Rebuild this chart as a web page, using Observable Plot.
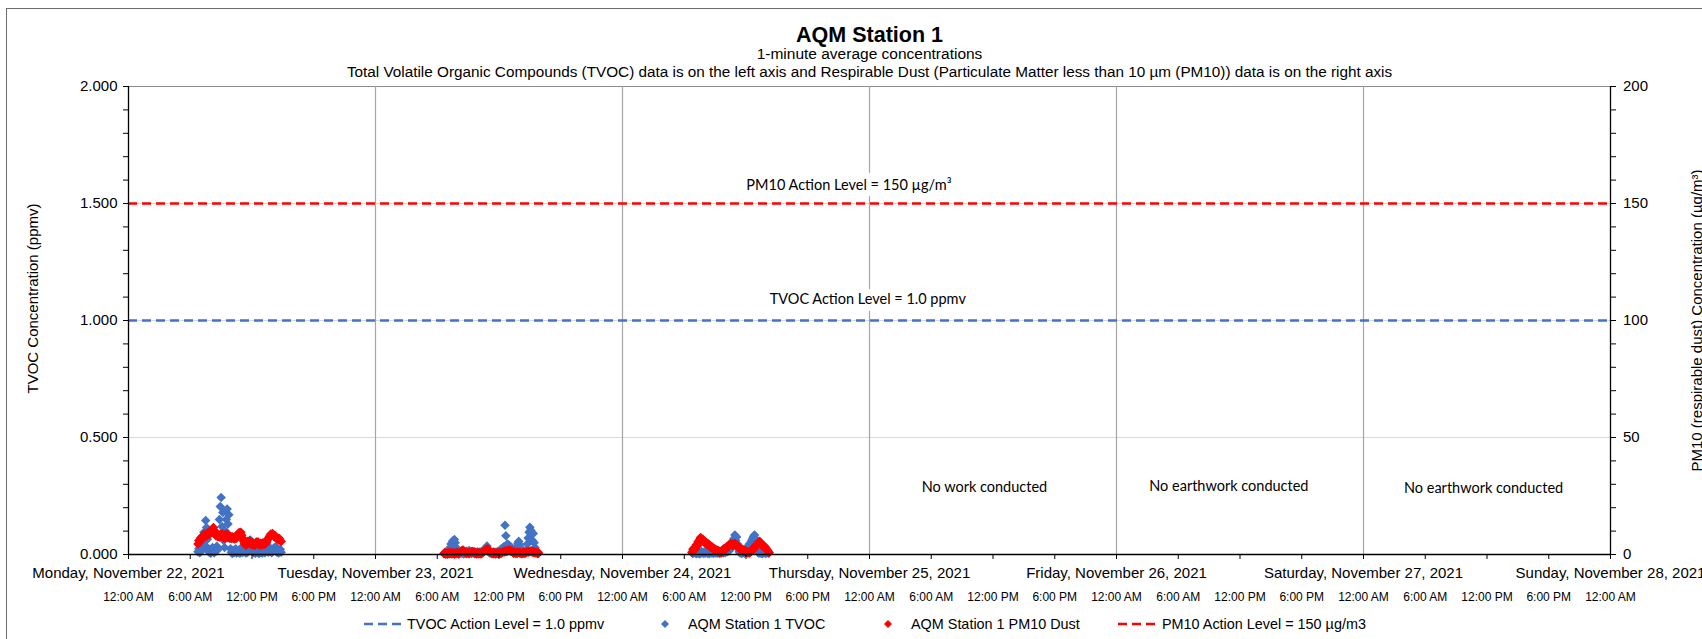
<!DOCTYPE html>
<html>
<head>
<meta charset="utf-8">
<script src="https://cdn.jsdelivr.net/npm/d3@7"></script>
<script src="https://cdn.jsdelivr.net/npm/@observablehq/plot@0.6"></script>
<style>
html,body{margin:0;padding:0;background:#fff;width:1702px;height:639px;overflow:hidden;}
#wrap{position:relative;width:1702px;height:639px;overflow:hidden;}
#frame{position:absolute;left:6px;top:8px;width:1760px;height:720px;border:1px solid #6e6e6e;box-sizing:border-box;pointer-events:none;}
#chart{position:absolute;left:0;top:0;}
.lg{position:absolute;top:615px;height:18px;line-height:18px;font-family:'Liberation Sans',Arial,sans-serif;font-size:14.4px;color:#000;white-space:nowrap;}
.lg svg{display:block;}
</style>
</head>
<body>
<div id="wrap">
  <div id="chart"></div>
  <div id="frame"></div>
</div>
<script>
// ---------------- DATA ----------------
const chartTitle = "AQM Station 1";
const subtitle1 = "1-minute average concentrations";
const subtitle2 = "Total Volatile Organic Compounds (TVOC) data is on the left axis and Respirable Dust (Particulate Matter less than 10 µm (PM10)) data is on the right axis";
const leftAxisTitle = "TVOC Concentration (ppmv)";
const rightAxisTitle = "PM10 (respirable dust) Concentration (µg/m³)";

const xStartISO = "2021-11-22T00:00:00Z";
const xEndISO = "2021-11-28T00:00:00Z";
const dayLabels = ["Monday, November 22, 2021","Tuesday, November 23, 2021","Wednesday, November 24, 2021","Thursday, November 25, 2021","Friday, November 26, 2021","Saturday, November 27, 2021","Sunday, November 28, 2021"];
const hourLabels = ["12:00 AM","6:00 AM","12:00 PM","6:00 PM"];
const leftTickValues = [0, 0.5, 1.0, 1.5, 2.0];
const leftTickLabels = ["0.000","0.500","1.000","1.500","2.000"];
const rightTickLabels = ["0","50","100","150","200"];
const minorTickValues = [0,0.1,0.2,0.3,0.4,0.5,0.6,0.7,0.8,0.9,1.0,1.1,1.2,1.3,1.4,1.5,1.6,1.7,1.8,1.9,2.0];

const tvocActionLevel = [1.0];      // ppmv (left axis)
const pm10ActionLevel = [150];      // µg/m³ (right axis)
const pm10PerTvocUnit = 100;        // right axis 0-200 vs left axis 0-2

// 5-minute samples of the 1-minute records, one array per working day
const sampleStepMinutes = 5;
const mondayStart = "2021-11-22T06:45:00Z";
const tuesdayStart = "2021-11-23T06:40:00Z";
const wednesdayStart = "2021-11-24T06:45:00Z";

const tvocMonday = [0.012,0.025,0.008,
 0.030,0.015,0.040,0.060,0.095,0.040,0.145,0.115,0.065,0.020,0.010,0.022,
 0.005,0.018,0.030,0.012,0.008,0.025,0.015,0.035,0.020,0.080,0.150,0.205,
 0.244,0.120,0.180,0.060,0.030,0.100,0.150,0.194,0.130,0.170,0.070,0.025,
 0.010,0.004,0.018,0.008,0.012,0.025,0.006,0.015,0.010,0.020,0.005,0.014,
 0.030,0.009,0.018,0.012,0.022,0.006,0.016,0.010,0.028,0.040,0.062,0.050,
 0.030,0.015,0.008,0.016,0.005,0.012,0.020,0.010,0.004,0.015,0.009,0.018,
 0.006,0.013,0.022,0.008,0.012,0.055,0.040,0.010,0.025,0.014,0.020,0.008,
 0.015,0.024,0.030,0.018,0.032,0.010,0.020,0.006,0.015,0.022,0.010];
const pm10Monday = [4.5,6.0,5.2,
 7.0,6.5,7.8,7.2,8.5,7.6,8.8,7.9,9.2,8.4,9.6,8.8,
 10.2,9.4,11.0,11.5,10.4,9.2,8.0,8.8,7.6,8.4,7.5,8.6,
 7.8,8.9,7.4,8.2,7.0,8.5,7.6,8.8,7.2,8.0,7.0,7.8,
 6.8,7.6,6.9,7.4,6.6,7.8,7.0,8.2,8.8,9.4,9.0,9.5,
 8.2,7.0,5.8,4.6,5.2,4.0,4.8,5.6,4.9,5.9,5.0,4.3,
 5.1,4.2,4.8,3.9,4.6,5.3,4.5,5.4,4.7,4.0,4.8,4.1,
 4.9,4.3,5.0,4.4,5.6,5.0,6.2,6.8,7.5,8.2,8.8,8.4,
 9.0,8.3,7.6,8.0,7.2,6.5,7.0,6.2,6.8,6.0,5.6];

const tvocTuesday = [0.004,0.010,0.002,0.008,
 0.012,0.005,0.018,0.030,0.045,0.022,0.058,0.040,0.064,0.050,0.030,0.015,
 0.008,0.003,0.010,0.006,0.012,0.004,0.009,0.002,0.011,0.006,0.014,0.005,
 0.010,0.017,0.008,0.012,0.004,0.010,0.006,0.013,0.003,0.009,0.005,0.012,
 0.007,0.004,0.010,0.006,0.014,0.008,0.012,0.018,0.025,0.030,0.036,0.022,
 0.015,0.006,0.010,0.004,0.008,0.003,0.011,0.006,0.009,0.004,0.012,0.007,
 0.010,0.016,0.022,0.014,0.028,0.020,0.034,0.125,0.080,0.040,0.045,0.030,
 0.038,0.024,0.032,0.018,0.012,0.006,0.010,0.004,0.020,0.035,0.048,0.056,
 0.042,0.030,0.018,0.008,0.012,0.005,0.010,0.006,0.020,0.045,0.070,0.095,
 0.116,0.104,0.085,0.060,0.090,0.050,0.030,0.015,0.008,0.012,0.004];
const pm10Tuesday = [0.3,0.8,0.2,0.6,
 0.1,0.7,0.3,0.9,0.4,0.2,0.8,0.5,0.1,0.6,0.3,0.9,
 0.5,0.2,0.8,1.0,1.4,1.7,1.9,1.5,1.2,0.8,0.4,0.9,
 0.6,0.3,0.8,1.0,1.2,1.3,1.1,0.7,0.4,0.8,0.2,0.6,
 0.3,0.9,0.5,0.2,0.7,1.0,1.3,1.6,1.9,2.1,2.3,2.4,
 2.0,1.6,1.1,0.7,0.4,0.9,0.3,0.7,0.2,0.5,0.8,0.3,
 0.6,0.9,0.4,0.7,1.0,1.3,1.1,1.5,1.2,1.6,1.4,1.8,
 1.9,1.7,1.3,1.6,1.0,0.7,1.1,0.5,0.8,0.4,0.9,1.0,
 0.6,0.8,0.3,0.7,0.4,0.9,0.5,0.8,1.1,1.3,1.0,1.4,
 1.2,1.5,1.3,1.0,1.2,0.8,1.1,0.6,0.9,0.4,0.7];

const tvocWednesday = [0.010,0.004,0.015,
 0.008,0.012,0.003,0.009,0.005,0.011,0.002,0.008,0.013,0.006,0.010,0.004,
 0.012,0.007,0.015,0.005,0.010,0.003,0.008,0.014,0.006,0.011,0.004,0.009,
 0.013,0.005,0.010,0.007,0.016,0.004,0.012,0.008,0.018,0.010,0.006,0.014,
 0.009,0.020,0.012,0.025,0.015,0.030,0.022,0.040,0.055,0.035,0.068,0.083,
 0.060,0.075,0.045,0.025,0.012,0.006,0.010,0.004,0.008,0.012,0.005,0.010,
 0.015,0.022,0.035,0.028,0.045,0.040,0.055,0.062,0.070,0.078,0.083,0.066,
 0.040,0.020,0.010,0.005,0.012,0.006,0.009,0.003,0.010,0.006,0.012,0.004,
 0.008,0.011,0.005,0.009];
const pm10Wednesday = [1.0,2.2,1.5,
 3.0,2.4,4.2,3.5,5.4,4.6,6.5,7.3,6.8,5.8,6.4,5.2,
 5.7,4.6,5.0,4.2,4.6,3.6,3.9,3.0,3.4,2.5,2.8,2.0,
 2.3,1.5,1.9,1.2,1.6,0.9,1.1,0.6,1.3,1.8,2.4,2.0,
 2.9,2.5,3.4,3.0,3.9,4.4,4.7,4.2,4.6,3.9,4.5,4.7,
 4.3,3.6,3.9,3.0,2.6,2.9,2.1,2.4,1.6,1.9,1.2,1.7,
 0.9,1.3,0.7,1.1,0.6,1.0,1.5,1.9,2.6,2.2,3.1,3.6,
 4.3,3.9,4.8,5.3,5.6,5.0,4.6,4.0,3.4,3.7,2.8,3.0,
 2.2,1.8,1.2,0.8];

// annotations (x in time, y in left-axis units)
const noteLabels = ["No work conducted","No earthwork conducted","No earthwork conducted"];
const noteTimes = ["2021-11-25T11:10:00Z","2021-11-26T10:55:00Z","2021-11-27T11:40:00Z"];
const noteValues = [0.288, 0.291, 0.283];
const actionLabelTexts = ["PM10 Action Level = 150 µg/m³","TVOC Action Level = 1.0 ppmv"];
const actionLabelTimes = ["2021-11-24T22:00:00Z","2021-11-24T23:50:00Z"];
const actionLabelValues = [1.579, 1.092];

const legendLabels = ["TVOC Action Level = 1.0 ppmv","AQM Station 1 TVOC","AQM Station 1 PM10 Dust","PM10 Action Level = 150 µg/m3"];

// ---------------- BUILD ----------------
const blue = "#4472C4", red = "#FF0000";
const xStart = new Date(xStartISO), xEnd = new Date(xEndISO);
function toSeries(startISO, values, divisor) {
  const t0 = new Date(startISO).getTime();
  return values.map((v, i) => ({t: new Date(t0 + i * sampleStepMinutes * 60000), v: v / divisor}));
}
const tvocData = [
  ...toSeries(mondayStart, tvocMonday, 1),
  ...toSeries(tuesdayStart, tvocTuesday, 1),
  ...toSeries(wednesdayStart, tvocWednesday, 1)
];
const pm10Data = [
  ...toSeries(mondayStart, pm10Monday, pm10PerTvocUnit),
  ...toSeries(tuesdayStart, pm10Tuesday, pm10PerTvocUnit),
  ...toSeries(wednesdayStart, pm10Wednesday, pm10PerTvocUnit)
];
const dayTicks = d3.utcDay.range(xStart, new Date(+xEnd + 1));
const sixHourTicks = d3.utcHour.every(6).range(xStart, new Date(+xEnd + 1));
const notes = noteLabels.map((s, i) => ({label: s, t: new Date(noteTimes[i]), v: noteValues[i]}));
const actionNotes = actionLabelTexts.map((s, i) => ({label: s, t: new Date(actionLabelTimes[i]), v: actionLabelValues[i]}));
const calibriLike = "Lato, 'Open Sans', sans-serif";
const arial = "'Liberation Sans', Arial, sans-serif";

const plot = Plot.plot({
  width: 1702,
  height: 639,
  marginTop: 86,
  marginBottom: 85,
  marginLeft: 128,
  marginRight: 92,
  x: {type: "utc", domain: [xStart, xEnd]},
  y: {domain: [0, 2]},
  style: {fontFamily: arial, fontSize: "15px", color: "#000", background: "transparent", overflow: "visible"},
  marks: [
    // gridlines
    Plot.ruleY([0.5, 1.0, 1.5], {stroke: "#d9d9d9", strokeWidth: 1}),
    Plot.ruleY([2.0], {stroke: "#8c8c8c", strokeWidth: 1.2}),
    Plot.ruleX(dayTicks.slice(1, -1), {stroke: "#a6a6a6", strokeWidth: 1.2}),
    // TVOC action level
    Plot.ruleY(tvocActionLevel, {y: d => d, stroke: blue, strokeWidth: 2.5, strokeDasharray: "9,5"}),
    // data
    Plot.dot(tvocData, {x: "t", y: "v", symbol: "diamond2", r: 4.3, fill: blue}),
    Plot.dot(pm10Data, {x: "t", y: "v", symbol: "diamond2", r: 4.3, fill: red}),
    // PM10 action level
    Plot.ruleY(pm10ActionLevel, {y: d => d / pm10PerTvocUnit, stroke: red, strokeWidth: 2.5, strokeDasharray: "9,5"}),
    // labels
    Plot.text(actionNotes, {x: "t", y: "v", text: "label", fontFamily: calibriLike, fontSize: 14.5, fill: "#000", stroke: "white", strokeWidth: 14, paintOrder: "stroke"}),
    Plot.text(notes, {x: "t", y: "v", text: "label", fontFamily: calibriLike, fontSize: 14.5, fill: "#000"}),
    // axis lines
    Plot.ruleX([xStart], {stroke: "#000", strokeWidth: 1.3}),
    Plot.ruleX([xEnd], {stroke: "#000", strokeWidth: 1.3}),
    Plot.ruleY([0], {stroke: "#000", strokeWidth: 1.3}),
    // left axis
    Plot.axisY(minorTickValues, {anchor: "left", tickSize: 5, tickFormat: () => "", label: null, stroke: "#000"}),
    Plot.axisY(leftTickValues, {anchor: "left", tickSize: 5, tickPadding: 6, tickFormat: d => leftTickLabels[leftTickValues.indexOf(d)], label: null, fontSize: 15, stroke: "#000"}),
    // right axis
    Plot.axisY(minorTickValues, {anchor: "right", tickSize: 5, tickFormat: () => "", label: null, stroke: "#000"}),
    Plot.axisY(leftTickValues, {anchor: "right", tickSize: 5, tickPadding: 7.5, tickFormat: d => rightTickLabels[leftTickValues.indexOf(d)], label: null, fontSize: 15, stroke: "#000"}),
    // bottom axes
    Plot.axisX(sixHourTicks, {anchor: "bottom", tickSize: 5, tickPadding: 32.5, tickFormat: d => hourLabels[d.getUTCHours() / 6], label: null, fontSize: 12, stroke: "#000"}),
    Plot.axisX(dayTicks, {anchor: "bottom", tickSize: 0, tickPadding: 12.5, tickFormat: d => dayLabels[Math.round((d - xStart) / 86400000)], label: null, fontSize: 15}),
    // axis titles
    Plot.text([leftAxisTitle], {text: d => d, frameAnchor: "left", textAnchor: "middle", lineAnchor: "middle", rotate: -90, dx: -95, dy: -22, fontSize: 15}),
    Plot.text([rightAxisTitle], {text: d => d, frameAnchor: "right", textAnchor: "middle", lineAnchor: "middle", rotate: -90, dx: 87, dy: 0, fontSize: 15}),
    // titles
    Plot.text([chartTitle], {text: d => d, frameAnchor: "top", lineAnchor: "middle", dy: -51, fontSize: 21.5, fontWeight: "bold"}),
    Plot.text([subtitle1], {text: d => d, frameAnchor: "top", lineAnchor: "middle", dy: -32, fontSize: 15.5}),
    Plot.text([subtitle2], {text: d => d, frameAnchor: "top", lineAnchor: "middle", dy: -14.5, fontSize: 15.3})
  ]
});
document.getElementById("chart").appendChild(plot);

// ---------------- LEGEND ----------------
const wrap = document.getElementById("wrap");
function dashSvg(color) {
  return `<svg width="42" height="18"><line x1="0" y1="9" x2="42" y2="9" stroke="${color}" stroke-width="2.5" stroke-dasharray="9,5"/></svg>`;
}
function diamondSvg(color) {
  return `<svg width="8" height="18"><polygon points="4,5 8,9 4,13 0,9" fill="${color}"/></svg>`;
}
const legendParts = [
  {left: 364, html: dashSvg(blue)},
  {left: 407, html: legendLabels[0]},
  {left: 661, html: diamondSvg(blue)},
  {left: 688, html: legendLabels[1]},
  {left: 884, html: diamondSvg(red)},
  {left: 911, html: legendLabels[2]},
  {left: 1118, html: dashSvg(red)},
  {left: 1162, html: legendLabels[3]}
];
for (const p of legendParts) {
  const el = document.createElement("div");
  el.className = "lg";
  el.style.left = p.left + "px";
  el.innerHTML = p.html;
  wrap.appendChild(el);
}
</script>
</body>
</html>
